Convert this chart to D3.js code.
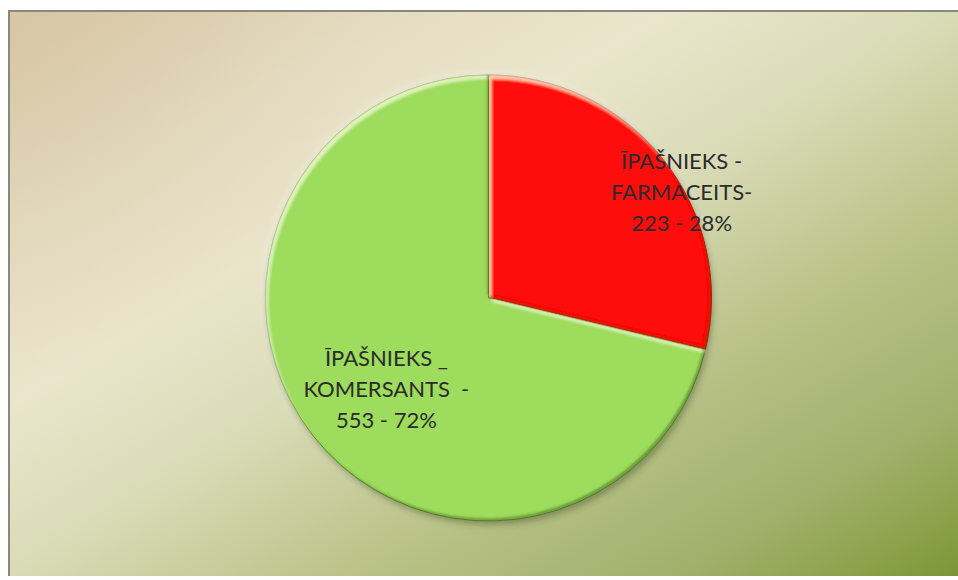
<!DOCTYPE html>
<html>
<head>
<meta charset="utf-8">
<script src="https://cdn.jsdelivr.net/npm/d3@7"></script>
<style>
  html, body { margin: 0; padding: 0; background: #ffffff; }
  svg { display: block; }
</style>
</head>
<body>
<svg id="chart" width="958" height="580"></svg>
<script>
// ---- data ----
const categories = ["ĪPAŠNIEKS - FARMACEITS", "ĪPAŠNIEKS _ KOMERSANTS"];
const values = [223, 553];
const percents = [28, 72];
const labelLines = [
  ["ĪPAŠNIEKS -", "FARMACEITS-", "223 - 28%"],
  ["ĪPAŠNIEKS _", "KOMERSANTS  -", "553 - 72%"]
];
const sliceColors = ["#ff0808", "#9ddc5c"];

// ---- drawing ----
const W = 958, H = 580;
const svg = d3.select("#chart");
const defs = svg.append("defs");

// background gradient
const bg = defs.append("linearGradient").attr("id", "bgGrad")
  .attr("x1", 0).attr("y1", 0).attr("x2", 1).attr("y2", 1);
[[0, "#d9c8a6"], [0.2, "#e4dcc2"], [0.35, "#eae5cc"], [0.5, "#d9dbb6"],
 [0.69, "#b8c186"], [0.85, "#a2b06c"], [0.94, "#8ca24c"], [1, "#7b9636"]]
  .forEach(([o, c]) => bg.append("stop").attr("offset", o).attr("stop-color", c));

// tan tint in the top-left corner
const tan = defs.append("radialGradient").attr("id", "tanGrad")
  .attr("gradientUnits", "userSpaceOnUse")
  .attr("cx", 20).attr("cy", 20).attr("r", 360);
tan.append("stop").attr("offset", 0).attr("stop-color", "#d4c09c").attr("stop-opacity", 0.35);
tan.append("stop").attr("offset", 1).attr("stop-color", "#d4c09c").attr("stop-opacity", 0);

// bevel filter
const f = defs.append("filter").attr("id", "bevel")
  .attr("x", "-10%").attr("y", "-10%").attr("width", "120%").attr("height", "120%");
f.append("feOffset").attr("in", "SourceAlpha").attr("dx", 3).attr("dy", 4).attr("result", "off1");
f.append("feComposite").attr("in", "SourceAlpha").attr("in2", "off1").attr("operator", "out").attr("result", "hl");
f.append("feGaussianBlur").attr("in", "hl").attr("stdDeviation", 1.6).attr("result", "hlb");
f.append("feFlood").attr("flood-color", "#fbffd8").attr("flood-opacity", 0.7).attr("result", "hlf");
f.append("feComposite").attr("in", "hlf").attr("in2", "hlb").attr("operator", "in").attr("result", "hlc0");
f.append("feComposite").attr("in", "hlc0").attr("in2", "SourceAlpha").attr("operator", "in").attr("result", "hlc");
f.append("feOffset").attr("in", "SourceAlpha").attr("dx", -2.5).attr("dy", -3).attr("result", "off2");
f.append("feComposite").attr("in", "SourceAlpha").attr("in2", "off2").attr("operator", "out").attr("result", "sh");
f.append("feGaussianBlur").attr("in", "sh").attr("stdDeviation", 1).attr("result", "shb");
f.append("feFlood").attr("flood-color", "#1f3500").attr("flood-opacity", 0.6).attr("result", "shf");
f.append("feComposite").attr("in", "shf").attr("in2", "shb").attr("operator", "in").attr("result", "shc0");
f.append("feComposite").attr("in", "shc0").attr("in2", "SourceAlpha").attr("operator", "in").attr("result", "shc");
const m = f.append("feMerge");
m.append("feMergeNode").attr("in", "SourceGraphic");
m.append("feMergeNode").attr("in", "hlc");
m.append("feMergeNode").attr("in", "shc");

// soft light glow around and dark shadow below the pie
const glow = defs.append("filter").attr("id", "glow")
  .attr("x", "-20%").attr("y", "-20%").attr("width", "140%").attr("height", "140%");
glow.append("feGaussianBlur").attr("in", "SourceAlpha").attr("stdDeviation", 4).attr("result", "b");
glow.append("feFlood").attr("flood-color", "#ffffff").attr("flood-opacity", 0.45);
glow.append("feComposite").attr("in2", "b").attr("operator", "in");

const shadow = defs.append("filter").attr("id", "shadow")
  .attr("x", "-20%").attr("y", "-20%").attr("width", "140%").attr("height", "140%");
shadow.append("feGaussianBlur").attr("in", "SourceAlpha").attr("stdDeviation", 3).attr("result", "b");
shadow.append("feOffset").attr("in", "b").attr("dx", 1.5).attr("dy", 4).attr("result", "o");
shadow.append("feFlood").attr("flood-color", "#2d3a10").attr("flood-opacity", 0.45);
shadow.append("feComposite").attr("in2", "o").attr("operator", "in");

// chart area
svg.append("rect").attr("x", 8).attr("y", 10).attr("width", W - 8).attr("height", 566)
  .attr("fill", "url(#bgGrad)");
svg.append("rect").attr("x", 8).attr("y", 10).attr("width", W - 8).attr("height", 566)
  .attr("fill", "url(#tanGrad)");
svg.append("line").attr("x1", 8).attr("y1", 11).attr("x2", W).attr("y2", 11)
  .attr("stroke", "#8a887c").attr("stroke-width", 2);
svg.append("line").attr("x1", 9).attr("y1", 10).attr("x2", 9).attr("y2", 576)
  .attr("stroke", "#8a887c").attr("stroke-width", 2);

// pie
const cx = 488.5, cy = 298, R = 223;
const pie = d3.pie().sort(null).value(d => d);
const arcs = pie(values);
const arc = d3.arc().innerRadius(0).outerRadius(R);

const g = svg.append("g").attr("transform", `translate(${cx},${cy})`);
g.append("circle").attr("r", R + 1).attr("fill", "#fff").attr("filter", "url(#glow)");
g.append("circle").attr("r", R).attr("fill", "#000").attr("filter", "url(#shadow)");

const darker = ["#b80000", "#4f8a1f"];
g.selectAll("path.slice").data(arcs).enter().append("path")
  .attr("class", "slice")
  .attr("d", arc)
  .attr("fill", (d, i) => sliceColors[i])
  .attr("stroke", (d, i) => darker[i])
  .attr("stroke-width", 0.8)
  .attr("filter", "url(#bevel)");

// labels (Excel "best fit" placement: radius fraction + angle nudge per slice)
const placement = [{ r: 0.985, da: 9.8 }, { r: 0.615, da: -3.6 }];
const lineH = 31;
arcs.forEach((d, i) => {
  const mid = (d.startAngle + d.endAngle) / 2 + placement[i].da * Math.PI / 180;
  const rr = R * placement[i].r;
  const lx = rr * Math.sin(mid), ly = -rr * Math.cos(mid);
  const t = g.append("text")
    .attr("x", lx).attr("y", ly)
    .attr("text-anchor", "middle")
    .attr("font-family", "Lato, 'Open Sans', sans-serif")
    .attr("font-size", 22)
    .attr("fill", "#2b2b2b")
    .style("white-space", "pre");
  labelLines[i].forEach((s, k) => {
    t.append("tspan").attr("x", lx)
      .attr("y", ly + (k - 1) * lineH + 7)
      .text(s);
  });
});
</script>
</body>
</html>
